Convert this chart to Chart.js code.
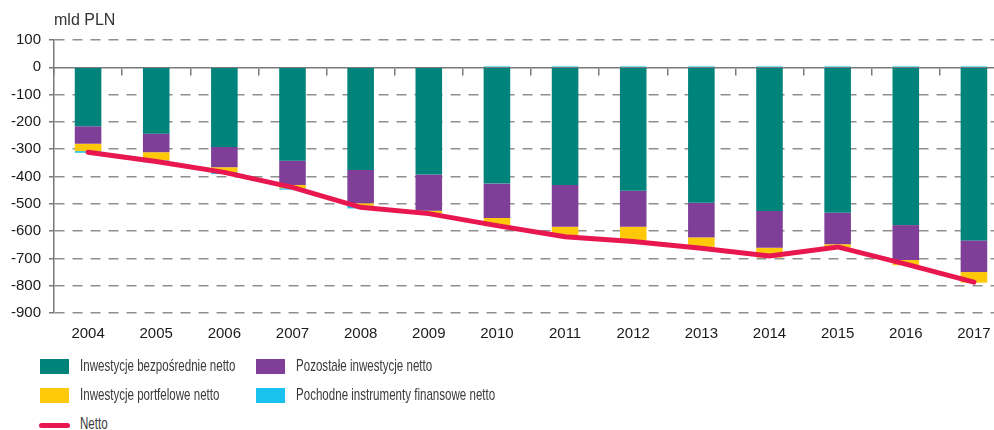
<!DOCTYPE html>
<html>
<head>
<meta charset="utf-8">
<script src="https://cdn.jsdelivr.net/npm/chart.js@4.4.0/dist/chart.umd.min.js"></script>
<style>
  body { margin: 0; background: #fff; overflow: hidden; }
  #wrap { position: relative; width: 1010px; height: 430px; }
  #chartBox { position: absolute; left: 0; top: 0; width: 1010px; height: 358px; }
  .leg { position: absolute; font-family: "Liberation Sans", Arial, sans-serif;
         font-size: 17px; color: #3a3a3a; line-height: 17px; white-space: nowrap;
         transform: scaleX(0.68); transform-origin: left center; }
  .sw { position: absolute; width: 29px; height: 15px; }
  .ln { position: absolute; width: 31px; height: 5px; border-radius: 3px; background: #E8174F; }
</style>
</head>
<body>
<div id="wrap">
  <div id="chartBox"><canvas id="myChart"></canvas></div>

  <div class="sw" style="left:40px; top:359px; background:#00837A;"></div>
  <div class="leg" style="left:80px; top:357px;">Inwestycje bezpośrednie netto</div>
  <div class="sw" style="left:256px; top:359px; background:#7F3F98;"></div>
  <div class="leg" style="left:296px; top:357px;">Pozostałe inwestycje netto</div>

  <div class="sw" style="left:40px; top:388px; background:#FFC90A;"></div>
  <div class="leg" style="left:80px; top:386px;">Inwestycje portfelowe netto</div>
  <div class="sw" style="left:256px; top:388px; background:#1BC1EF;"></div>
  <div class="leg" style="left:296px; top:386px;">Pochodne instrumenty finansowe netto</div>

  <div class="ln" style="left:39px; top:423px;"></div>
  <div class="leg" style="left:80px; top:415px;">Netto</div>
</div>

<script>
// lata
var years = ["2004","2005","2006","2007","2008","2009","2010","2011","2012","2013","2014","2015","2016","2017"];

// mld PLN.......................
var direct      = [-216,-243,-292,-342,-376,-393,-426,-431,-452,-496,-526,-533,-578,-634];
var other       = [-64,-68,-74,-89,-122,-132,-126,-153,-132,-127,-135,-115,-128,-116];
var portfolio   = [-27,-30,-18,-12,-9,-10,-30,-32,-49,-35,-36,-12,-19,-39];
var derivatives = [-6,-7,-7,-5,-10,-2,5,5,5,5,5,5,5,5];
var net         = [-311,-345,-385,-440,-513,-536,-580,-621,-638,-663,-691,-658,-721,-787];

var yTicks = [100,0,-100,-200,-300,-400,-500,-600,-700,-800,-900];

var tickFont = { family: "'Liberation Sans', Arial, sans-serif", size: 15 };

// "mld PLN" above the axis
var unitLabel = {
  id: 'unitLabel',
  afterDraw: function (chart) {
    var ctx = chart.ctx;
    ctx.save();
    ctx.font = "16px 'Liberation Sans', Arial, sans-serif";
    ctx.fillStyle = '#333';
    ctx.textBaseline = 'middle';
    ctx.fillText('mld PLN', chart.chartArea.left, 21);
    ctx.restore();
  }
};

new Chart("myChart", {
  type: "bar",
  data: {
    labels: years,
    datasets: [
      { type: 'line', label: 'Netto', data: net, borderColor: '#E8174F', borderWidth: 5,
        pointRadius: 0, tension: 0, stack: 'net', order: 0, borderCapStyle: 'round' },
      { label: 'Inwestycje bezpośrednie netto', data: direct, backgroundColor: '#00837A', order: 1 },
      { label: 'Pozostałe inwestycje netto', data: other, backgroundColor: '#7F3F98', order: 1 },
      { label: 'Inwestycje portfelowe netto', data: portfolio, backgroundColor: '#FFC90A', order: 1 },
      { label: 'Pochodne instrumenty finansowe netto', data: derivatives, backgroundColor: '#1BC1EF', order: 1 }
    ]
  },
  options: {
    responsive: true,
    maintainAspectRatio: false,
    animation: false,
    layout: { padding: { top: 40, right: 2, bottom: 3, left: 0 } },
    datasets: { bar: { barPercentage: 0.39, categoryPercentage: 1 } },
    plugins: {
      legend: { display: false },
      tooltip: { enabled: false }
    },
    scales: {
      x: {
        stacked: true,
        offset: true,
        grid: { display: false, drawTicks: false, offset: true },
        border: { display: false },
        ticks: { font: tickFont, color: '#1a1a1a', padding: 12, maxRotation: 0 }
      },
      x2: {
        type: 'category',
        labels: years,
        position: { y: 0 },
        offset: true,
        afterFit: function (scale) { scale.height = 0; },
        grid: { offset: true, drawOnChartArea: false, drawTicks: true, tickLength: 7, color: '#7a7a7a', lineWidth: 1.5 },
        border: { display: true, color: '#7a7a7a', width: 1.5 },
        ticks: { display: false }
      },
      y: {
        stacked: true,
        min: -900,
        max: 100,
        afterBuildTicks: function (scale) {
          scale.ticks = yTicks.map(function (v) { return { value: v }; });
        },
        afterFit: function (scale) { scale.width = 54; },
        grid: {
          color: function (c) { return c.tick && c.tick.value === 0 ? 'rgba(0,0,0,0)' : '#8f8f8f'; },
          lineWidth: 1.5,
          tickLength: 5,
          tickColor: '#7a7a7a',
          tickBorderDash: []
        },
        border: { display: true, color: '#7a7a7a', width: 1.5, dash: [10, 8] },
        ticks: { font: tickFont, color: '#1a1a1a', padding: 8 }
      }
    }
  },
  plugins: [unitLabel]
});
</script>
</body>
</html>
